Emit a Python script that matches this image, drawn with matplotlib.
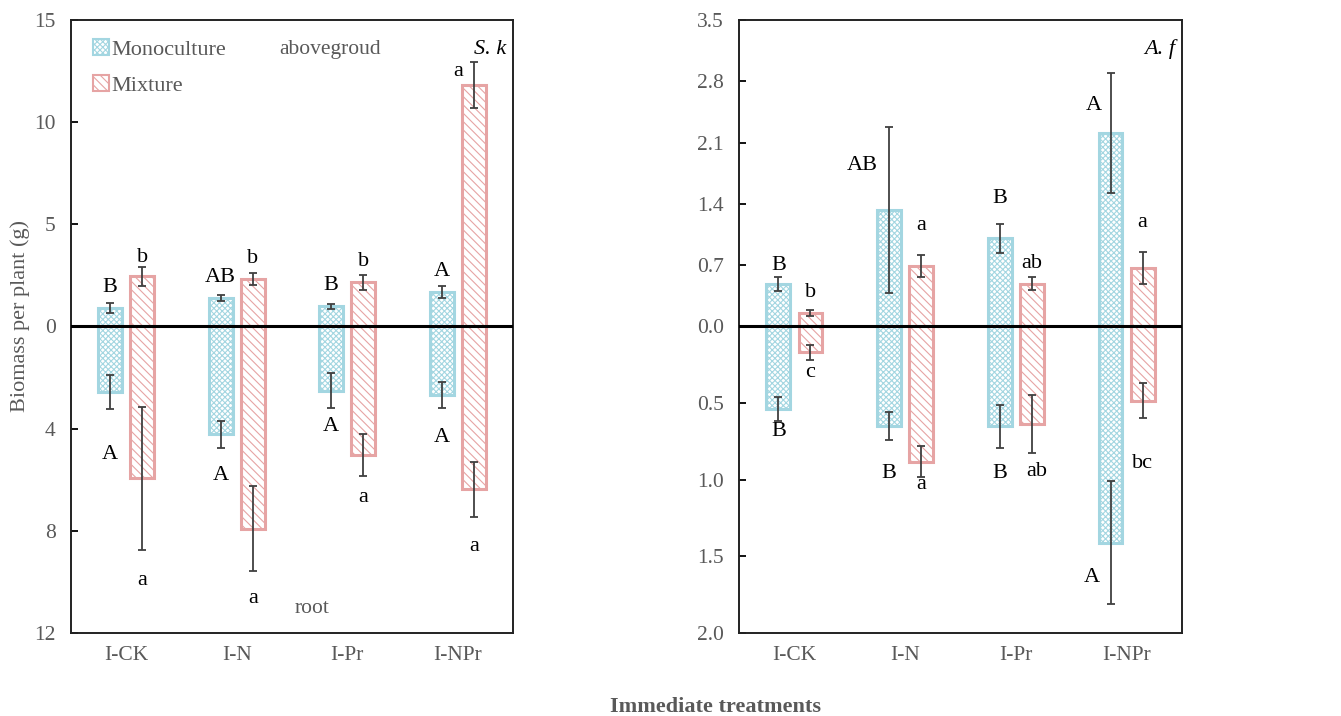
import numpy as np
import matplotlib
matplotlib.use("Agg")
import matplotlib.pyplot as plt
from matplotlib.patches import Patch
from matplotlib.ticker import FuncFormatter

# ---------------- data ----------------
categories = ["I-CK", "I-N", "I-Pr", "I-NPr"]

# S. k (left panel)
sk_shoot_mono = [0.90, 1.39, 0.98, 1.69]
sk_shoot_mono_err = [0.26, 0.16, 0.12, 0.29]
sk_shoot_mix = [2.46, 2.33, 2.16, 11.80]
sk_shoot_mix_err = [0.47, 0.30, 0.37, 1.13]
sk_root_mono = [2.56, 4.22, 2.51, 2.69]
sk_root_mono_err = [0.66, 0.52, 0.70, 0.51]
sk_root_mix = [5.95, 7.92, 5.04, 6.38]
sk_root_mix_err = [2.80, 1.67, 0.83, 1.07]

# A. f (right panel)
af_shoot_mono = [0.48, 1.33, 1.01, 2.21]
af_shoot_mono_err = [0.08, 0.95, 0.165, 0.69]
af_shoot_mix = [0.15, 0.69, 0.49, 0.67]
af_shoot_mix_err = [0.035, 0.125, 0.075, 0.18]
af_root_mono = [0.54, 0.65, 0.65, 1.41]
af_root_mono_err = [0.078, 0.09, 0.14, 0.40]
af_root_mix = [0.167, 0.883, 0.634, 0.483]
af_root_mix_err = [0.049, 0.10, 0.19, 0.115]

# significance letters
sk_shoot_mono_let = ["B", "AB", "B", "A"]
sk_shoot_mix_let = ["b", "b", "b", "a"]
sk_root_mono_let = ["A", "A", "A", "A"]
sk_root_mix_let = ["a", "a", "a", "a"]
af_shoot_mono_let = ["B", "AB", "B", "A"]
af_shoot_mix_let = ["b", "a", "ab", "a"]
af_root_mono_let = ["B", "B", "B", "A"]
af_root_mix_let = ["c", "a", "ab", "bc"]

left_yticks = [-12, -8, -4, 0, 5, 10, 15]
right_yticks = [-2.0, -1.5, -1.0, -0.5, 0.0, 0.7, 1.4, 2.1, 2.8, 3.5]

# ---------------- layout / style ----------------
plt.rcParams["font.family"] = ["Liberation Serif", "DejaVu Serif"]
plt.rcParams["hatch.linewidth"] = 0.8

BLUE = "#a3d6e1"
PINK = "#e6a4a4"
GRAY = "#595959"
ERR = "#404040"
OFF = 0.145
W = 0.215

# letter label positions in data units of each panel (x offset from category, y)
sk_shoot_mono_pos = [(-OFF, 1.93), (-OFF, 2.42), (-OFF, 2.03), (-OFF, 2.67)]
sk_shoot_mix_pos = [(OFF, 3.40), (OFF, 3.35), (OFF, 3.16), (0.0, 12.46)]
sk_root_mono_pos = [(-OFF, -5.03), (-OFF, -5.82), (-OFF, -3.90), (-OFF, -4.33)]
sk_root_mix_pos = [(OFF, -9.93), (OFF, -10.63), (OFF, -6.68), (OFF, -8.63)]
af_shoot_mono_pos = [(-OFF, 0.702), (-0.385, 1.833), (-OFF, 1.456), (-0.30, 2.529)]
af_shoot_mix_pos = [(OFF, 0.383), (OFF, 1.159), (OFF, 0.714), (OFF, 1.193)]
af_root_mono_pos = [(-OFF, -0.682), (-OFF, -0.956), (-OFF, -0.956), (-0.31, -1.635)]
af_root_mix_pos = [(OFF, -0.303), (OFF, -1.028), (0.19, -0.943), (OFF, -0.891)]


def piecewise(s):
    def fwd(y):
        y = np.asarray(y, dtype=float)
        return np.where(y < 0, y * s, y)

    def inv(y):
        y = np.asarray(y, dtype=float)
        return np.where(y < 0, y / s, y)

    return fwd, inv


fig = plt.figure(figsize=(13.41, 7.16), dpi=100)
ax1 = fig.add_axes([71 / 1341, 1 - 633 / 716, 442 / 1341, 613 / 716])
ax2 = fig.add_axes([739 / 1341, 1 - 633 / 716, 443 / 1341, 613 / 716])

x = np.arange(len(categories))


def draw(ax, scale, ylim, yticks, fmt, sm, sme, sx, sxe, rm, rme, rx, rxe):
    ax.set_yscale("function", functions=piecewise(scale))
    kw = dict(width=W, linewidth=2.2, zorder=2)
    for vals in (sm, [-v for v in rm]):
        ax.bar(x - OFF, vals, facecolor="white", edgecolor=BLUE, hatch="xxxxxx", **kw)
    for vals in (sx, [-v for v in rx]):
        ax.bar(x + OFF, vals, facecolor="white", edgecolor=PINK, hatch="\\\\\\\\", **kw)
    ekw = dict(fmt="none", ecolor=ERR, elinewidth=1.3, capsize=3, capthick=1.3, zorder=4)
    ax.errorbar(x - OFF, sm, yerr=sme, **ekw)
    ax.errorbar(x + OFF, sx, yerr=sxe, **ekw)
    ax.errorbar(x - OFF, [-v for v in rm], yerr=rme, **ekw)
    ax.errorbar(x + OFF, [-v for v in rx], yerr=rxe, **ekw)
    ax.axhline(0, color="black", linewidth=2.2, zorder=3)
    ax.set_xlim(-0.5, len(categories) - 0.5)
    ax.set_ylim(*ylim)
    ax.set_yticks(yticks)
    ax.yaxis.set_major_formatter(FuncFormatter(fmt))
    ax.set_xticks(x)
    ax.set_xticklabels(categories)
    ax.tick_params(axis="x", length=0, pad=9, labelsize=15.5, labelcolor=GRAY)
    ax.tick_params(axis="y", direction="in", length=5, width=1.3, pad=11,
                   labelsize=15.5, labelcolor=GRAY)
    ax.minorticks_off()
    for sp in ax.spines.values():
        sp.set_linewidth(1.4)
        sp.set_color("#222222")


draw(ax1, 15 / 12, (-12, 15), left_yticks, lambda v, p: f"{abs(v):.0f}",
     sk_shoot_mono, sk_shoot_mono_err, sk_shoot_mix, sk_shoot_mix_err,
     sk_root_mono, sk_root_mono_err, sk_root_mix, sk_root_mix_err)
draw(ax2, 3.5 / 2.0, (-2.0, 3.5), right_yticks, lambda v, p: f"{abs(v):.1f}",
     af_shoot_mono, af_shoot_mono_err, af_shoot_mix, af_shoot_mix_err,
     af_root_mono, af_root_mono_err, af_root_mix, af_root_mix_err)


def letters(ax, labs, pos):
    for i, (t, (dx, y)) in enumerate(zip(labs, pos)):
        ax.text(i + dx, y, t, ha="center", va="center", fontsize=16, color="black", zorder=5)


letters(ax1, sk_shoot_mono_let, sk_shoot_mono_pos)
letters(ax1, sk_shoot_mix_let, sk_shoot_mix_pos)
letters(ax1, sk_root_mono_let, sk_root_mono_pos)
letters(ax1, sk_root_mix_let, sk_root_mix_pos)
letters(ax2, af_shoot_mono_let, af_shoot_mono_pos)
letters(ax2, af_shoot_mix_let, af_shoot_mix_pos)
letters(ax2, af_root_mono_let, af_root_mono_pos)
letters(ax2, af_root_mix_let, af_root_mix_pos)

ax1.text(0.585, 0.952, "abovegroud", transform=ax1.transAxes, ha="center", va="center",
         fontsize=15.5, color=GRAY)
ax1.text(0.545, 0.04, "root", transform=ax1.transAxes, ha="center", va="center",
         fontsize=15.5, color=GRAY)
ax1.text(0.985, 0.952, "S. k", transform=ax1.transAxes, ha="right", va="center",
         fontsize=16, style="italic", color="black")
ax2.text(0.985, 0.952, "A. f", transform=ax2.transAxes, ha="right", va="center",
         fontsize=16, style="italic", color="black")

handles = [Patch(facecolor="white", edgecolor=BLUE, hatch="xxxxxx", linewidth=1.5, label="Monoculture"),
           Patch(facecolor="white", edgecolor=PINK, hatch="\\\\\\\\", linewidth=1.5, label="Mixture")]
ax1.legend(handles=handles, loc="upper left", bbox_to_anchor=(0.02, 0.99), frameon=False,
           fontsize=16, labelcolor=GRAY, handlelength=0.7, handleheight=0.7,
           handletextpad=0.1, labelspacing=0.68, borderaxespad=0.2)

fig.text(20 / 1341, 1 - 316 / 716, "Biomass per plant (g)", rotation=90, ha="center",
         va="center", fontsize=16, color=GRAY)
fig.text(715 / 1341, 1 - 707 / 716, "Immediate treatments", ha="center", va="center",
         fontsize=16, fontweight="bold", color=GRAY)

fig.savefig("out.png", dpi=100)
